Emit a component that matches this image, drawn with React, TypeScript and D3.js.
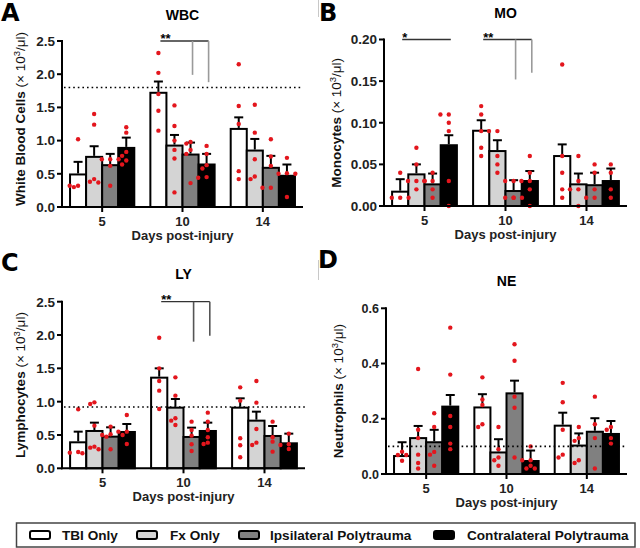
import React from "react";
import * as d3 from "d3";

// ---------- shared categories ----------
const days = ["5", "10", "14"];
const groups = ["TBI Only", "Fx Only", "Ipsilateral Polytrauma", "Contralateral Polytrauma"];
const groupFills = ["#ffffff", "#d4d4d4", "#808080", "#000000"];

// ---------- WBC (A) : [day][group] ----------
const wbcMean = [
  [0.49, 0.755, 0.63, 0.89],
  [1.72, 0.925, 0.79, 0.64],
  [1.176, 0.85, 0.59, 0.47],
];
const wbcSem = [
  [0.19, 0.16, 0.17, 0.155],
  [0.17, 0.16, 0.18, 0.16],
  [0.174, 0.175, 0.18, 0.17],
];
const wbcDots = [
  [[1.02, 0.32, 0.3, 0.32], [1.4, 1.24, 0.42, 0.37, 0.38], [0.72, 0.72, 0.72, 0.62, 0.32], [1.12, 1.2, 0.83, 0.77, 0.7, 0.64]],
  [[2.32, 2.02, 1.7, 1.45, 1.15], [1.53, 1.22, 1.0, 0.86, 0.73, 0.22], [0.98, 0.955, 0.86, 0.8, 0.36], [0.8, 0.92, 0.63, 0.58, 0.45, 0.44]],
  [[2.15, 1.52, 1.25, 0.54, 0.42], [1.54, 1.12, 0.72, 0.46, 0.42], [1.02, 0.76, 0.62, 0.29, 0.29], [0.74, 0.5, 0.5, 0.51, 0.15]],
];
const wbcTicks = [0, 0.5, 1.0, 1.5, 2.0, 2.5];
const wbcRef = 1.8;

// ---------- MO (B) ----------
const moMean = [
  [0.0172, 0.038, 0.026, 0.073],
  [0.0904, 0.066, 0.018, 0.03],
  [0.06, 0.026, 0.025, 0.03],
];
const moSem = [
  [0.015, 0.012, 0.013, 0.012],
  [0.0126, 0.013, 0.013, 0.012],
  [0.014, 0.013, 0.015, 0.015],
];
const moDots = [
  [[0.04, 0.01, 0.01, 0.01], [0.07, 0.05, 0.03, 0.03, 0.03, 0.02], [0.04, 0.03, 0.03, 0.02, 0.01], [0.11, 0.11, 0.1, 0.09, 0.03, 0.0]],
  [[0.12, 0.11, 0.09, 0.07, 0.06], [0.09, 0.09, 0.06, 0.05, 0.04], [0.03, 0.03, 0.01, 0.01, 0.01, 0.01], [0.06, 0.04, 0.03, 0.03, 0.02, 0.0]],
  [[0.17, 0.06, 0.04, 0.02, 0.01], [0.06, 0.03, 0.02, 0.02, 0.0], [0.05, 0.04, 0.02, 0.01, 0.01], [0.05, 0.04, 0.02, 0.01]],
];
const moTicks = [0, 0.05, 0.1, 0.15, 0.2];

// ---------- LY (C) ----------
const lyMean = [
  [0.39, 0.56, 0.475, 0.545],
  [1.36, 0.91, 0.47, 0.56],
  [0.91, 0.715, 0.485, 0.375],
];
const lySem = [
  [0.16, 0.125, 0.14, 0.12],
  [0.14, 0.13, 0.14, 0.125],
  [0.14, 0.135, 0.15, 0.145],
];
const lyDots = [
  [[0.885, 0.235, 0.225, 0.245], [0.965, 0.99, 0.64, 0.325, 0.285, 0.31], [0.625, 0.51, 0.5, 0.475, 0.285], [0.8, 0.55, 0.55, 0.5, 0.365]],
  [[1.96, 1.5, 1.31, 1.165, 0.89], [1.365, 1.09, 0.75, 0.715, 0.65], [0.7, 0.575, 0.49, 0.36, 0.26], [0.835, 0.7, 0.575, 0.465, 0.385, 0.365]],
  [[1.215, 1.015, 0.45, 0.345, 0.165], [1.31, 0.985, 0.59, 0.385, 0.35], [0.7, 0.465, 0.4, 0.25], [0.52, 0.36, 0.35, 0.29]],
];
const lyTicks = [0, 0.5, 1.0, 1.5, 2.0, 2.5];
const lyRef = 0.92;

// ---------- NE (D) ----------
const neMean = [
  [0.065, 0.13, 0.115, 0.244],
  [0.241, 0.078, 0.292, 0.047],
  [0.175, 0.103, 0.153, 0.145],
];
const neSem = [
  [0.05, 0.044, 0.045, 0.042],
  [0.048, 0.048, 0.046, 0.038],
  [0.047, 0.044, 0.049, 0.047],
];
const neDots = [
  [[0.081, 0.069, 0.069, 0.048], [0.38, 0.16, 0.13, 0.07, 0.04, 0.02], [0.22, 0.17, 0.08, 0.07, 0.03], [0.53, 0.36, 0.21, 0.17, 0.11, 0.09]],
  [[0.35, 0.27, 0.25, 0.18, 0.17], [0.17, 0.09, 0.06, 0.05, 0.03], [0.47, 0.41, 0.28, 0.24, 0.06], [0.1, 0.05, 0.05, 0.03, 0.02, 0.02]],
  [[0.33, 0.26, 0.16, 0.07, 0.06], [0.17, 0.13, 0.12, 0.05, 0.04], [0.28, 0.18, 0.13, 0.02], [0.17, 0.16, 0.13, 0.11]],
];
const neTicks = [0, 0.2, 0.4, 0.6];
const neRef = 0.1;

// ---------- significance annotations (value space) ----------
type Sig = { label: string; day: string; from: number; to: number; level: number; drops: [number, number][] };
const wbcSig: Sig[] = [{ label: "**", day: "10", from: 0, to: 3, level: 2.5, drops: [[2, 1.99], [3, 1.88]] }];
const moSig: Sig[] = [
  { label: "*", day: "5", from: 0, to: 3, level: 0.2, drops: [] },
  { label: "**", day: "10", from: 0, to: 3, level: 0.2, drops: [[2, 0.152], [3, 0.16]] },
];
const lySig: Sig[] = [{ label: "**", day: "10", from: 0, to: 3, level: 2.5, drops: [[2, 1.9], [3, 1.99]] }];

const FONT = "'Liberation Sans', Arial, Helvetica, sans-serif";
const RED = "#e3161d";

function placeDots(vals: number[], yf: (v: number) => number, sep = 4.2, minD = 4.3) {
  const idx = vals.map((_, i) => i).sort((a, b) => vals[b] - vals[a]);
  const placed: { x: number; y: number }[] = [];
  const out: number[] = new Array(vals.length).fill(0);
  const cands = [0, -1, 1, -2, 2, -3, 3];
  for (const i of idx) {
    const py = yf(vals[i]);
    for (const c of cands) {
      const dx = c * sep;
      if (placed.every((p) => Math.hypot(p.x - dx, p.y - py) >= minD)) {
        out[i] = dx;
        placed.push({ x: dx, y: py });
        break;
      }
    }
  }
  return out;
}

type PanelCfg = {
  box: { left: number; right: number; top: number; bottom: number };
  letter: string;
  letterPos: [number, number];
  title: string;
  titleY: number;
  yName: string;
  yTitleX: number;
  yTitleCy?: number;
  ticks: number[];
  fmt: string;
  mean: number[][];
  sem: number[][];
  dots: number[][][];
  ref?: number;
  sig: Sig[];
  dropColor: string;
  tickFont: number;
};

function Panel({ c }: { c: PanelCfg }) {
  const { left, right, top, bottom } = c.box;
  const x = d3.scaleBand<string>().domain(days).range([left, right]).paddingInner(0.2).paddingOuter(0.1);
  const xs = d3.scaleBand<string>().domain(groups).range([0, x.bandwidth()]);
  const yMax = c.ticks[c.ticks.length - 1];
  const y = d3.scaleLinear().domain([0, yMax]).range([bottom, top]);
  const f = d3.format(c.fmt);
  const bw = xs.bandwidth();
  const cx = (day: string, g: number) => (x(day) as number) + (xs(groups[g]) as number) + bw / 2;
  const midX = (left + right) / 2;
  const yCy = c.yTitleCy ?? (top + bottom) / 2;

  return (
    <g fontFamily={FONT}>
      <text x={c.letterPos[0]} y={c.letterPos[1]} fontSize={24} fontWeight="bold" fontFamily="'DejaVu Sans', Arial, sans-serif">
        {c.letter}
      </text>
      <text x={midX} y={c.titleY} fontSize={14} fontWeight="bold" textAnchor="middle">
        {c.title}
      </text>
      <text transform={`translate(${c.yTitleX},${yCy}) rotate(-90)`} fontSize={13.5} textAnchor="middle" fill="#111">
        <tspan fontWeight="bold">{c.yName} </tspan>
        <tspan>(× 10</tspan>
        <tspan fontSize={9.5} dy={-5}>3</tspan>
        <tspan dy={5}>/μl)</tspan>
      </text>

      {/* bars */}
      {days.map((day, di) =>
        groups.map((g, gi) => {
          const m = c.mean[di][gi];
          return (
            <rect
              key={`b${day}${gi}`}
              x={(x(day) as number) + (xs(g) as number)}
              y={y(m)}
              width={bw}
              height={bottom - y(m)}
              fill={groupFills[gi]}
              stroke="#000"
              strokeWidth={2}
            />
          );
        })
      )}
      {/* error bars */}
      {days.map((day, di) =>
        groups.map((g, gi) => {
          const m = c.mean[di][gi];
          const t = y(m + c.sem[di][gi]);
          const px = cx(day, gi);
          return (
            <g key={`e${day}${gi}`} stroke="#000" strokeWidth={2}>
              <line x1={px} x2={px} y1={y(m) - 1} y2={t} />
              <line x1={px - 4.5} x2={px + 4.5} y1={t} y2={t} />
            </g>
          );
        })
      )}
      {/* dots */}
      {days.map((day, di) =>
        groups.map((g, gi) => {
          const vals = c.dots[di][gi];
          const offs = placeDots(vals, (v) => y(v));
          return vals.map((v, k) => (
            <circle key={`d${day}${gi}${k}`} cx={cx(day, gi) + offs[k]} cy={y(v)} r={2.2} fill={RED} />
          ));
        })
      )}
      {/* reference line */}
      {c.ref !== undefined && (
        <line x1={left + 2} x2={right} y1={y(c.ref)} y2={y(c.ref)} stroke="#000" strokeWidth={1.6} strokeDasharray="1.6,3" />
      )}
      {/* significance */}
      {c.sig.map((s, i) => {
        const ly = y(s.level);
        const x1 = cx(s.day, s.from) + 2;
        const x2 = cx(s.day, s.to) + 2;
        return (
          <g key={`s${i}`}>
            <line x1={x1} x2={x2} y1={ly} y2={ly} stroke="#333" strokeWidth={1.3} />
            {s.drops.map(([gi, v], k) => (
              <line key={k} x1={cx(s.day, gi) + 2} x2={cx(s.day, gi) + 2} y1={ly} y2={y(v)} stroke={c.dropColor} strokeWidth={1.6} />
            ))}
            <text x={x1} y={ly + 2} fontSize={13} fontWeight="bold">
              {s.label}
            </text>
          </g>
        );
      })}
      {/* axes */}
      <line x1={left} x2={left} y1={top - 1} y2={bottom + 1} stroke="#000" strokeWidth={2} />
      <line x1={left - 1} x2={right} y1={bottom} y2={bottom} stroke="#000" strokeWidth={2} />
      {c.ticks.map((t) => (
        <g key={`yt${t}`}>
          <line x1={left - 5} x2={left} y1={y(t)} y2={y(t)} stroke="#000" strokeWidth={2} />
          <text x={left - 7} y={y(t)} dy="0.36em" fontSize={c.tickFont} fontWeight="bold" textAnchor="end" fill="#222">
            {f(t)}
          </text>
        </g>
      ))}
      {days.map((day) => {
        const px = (x(day) as number) + x.bandwidth() / 2;
        return (
          <g key={`xt${day}`}>
            <line x1={px} x2={px} y1={bottom} y2={bottom + 5} stroke="#000" strokeWidth={2} />
            <text x={px} y={bottom + 19} fontSize={13} fontWeight="bold" textAnchor="middle" fill="#222">
              {day}
            </text>
          </g>
        );
      })}
      <text x={midX} y={bottom + 32.5} fontSize={13} fontWeight="bold" textAnchor="middle" fill="#222">
        Days post-injury
      </text>
    </g>
  );
}

const panels: PanelCfg[] = [
  {
    box: { left: 62, right: 303, top: 41, bottom: 207 },
    letter: "A", letterPos: [1, 21], title: "WBC", titleY: 20,
    yName: "White Blood Cells", yTitleX: 25, yTitleCy: 119,
    ticks: wbcTicks, fmt: ".1f", mean: wbcMean, sem: wbcSem, dots: wbcDots, ref: wbcRef,
    sig: wbcSig, dropColor: "#9a9a9a", tickFont: 13.5,
  },
  {
    box: { left: 384, right: 627, top: 39.5, bottom: 206 },
    letter: "B", letterPos: [319, 21], title: "MO", titleY: 18,
    yName: "Monocytes", yTitleX: 341,
    ticks: moTicks, fmt: ".2f", mean: moMean, sem: moSem, dots: moDots,
    sig: moSig, dropColor: "#9a9a9a", tickFont: 13.5,
  },
  {
    box: { left: 62, right: 305, top: 301.7, bottom: 468.3 },
    letter: "C", letterPos: [1, 271], title: "LY", titleY: 279,
    yName: "Lymphocytes", yTitleX: 25,
    ticks: lyTicks, fmt: ".1f", mean: lyMean, sem: lySem, dots: lyDots, ref: lyRef,
    sig: lySig, dropColor: "#555", tickFont: 13.5,
  },
  {
    box: { left: 386, right: 627, top: 308.3, bottom: 474 },
    letter: "D", letterPos: [318, 268], title: "NE", titleY: 286,
    yName: "Neutrophils", yTitleX: 343,
    ticks: neTicks, fmt: ".1f", mean: neMean, sem: neSem, dots: neDots, ref: neRef,
    sig: [], dropColor: "#555", tickFont: 12.5,
  },
];

const legendSwatchX = [30, 137, 239, 434];
const legendTextX = [62, 170, 270, 467];

export default function App() {
  return (
    <svg
      width={640}
      height={548}
      viewBox="0 0 640 548"
      style={{ position: "absolute", left: 0, top: 0, background: "#fff", display: "block" }}
    >
      <rect x={0} y={0} width={640} height={548} fill="#fff" />
      <line x1={318.5} x2={318.5} y1={0} y2={17} stroke="#c8c8c8" strokeWidth={1} />
      <line x1={318.5} x2={318.5} y1={260} y2={280} stroke="#c8c8c8" strokeWidth={1} />
      {panels.map((p) => (
        <Panel key={p.letter} c={p} />
      ))}
      <g fontFamily={FONT}>
        <rect x={16.5} y={523} width={618.5} height={24} fill="#fff" stroke="#444" strokeWidth={1.5} />
        {groups.map((g, i) => (
          <g key={g}>
            <rect x={legendSwatchX[i]} y={531} width={20} height={8} rx={2} fill={groupFills[i]} stroke="#000" strokeWidth={2} />
            <text x={legendTextX[i]} y={540} fontSize={13.6} fontWeight="bold" fill="#111">
              {g}
            </text>
          </g>
        ))}
      </g>
    </svg>
  );
}
